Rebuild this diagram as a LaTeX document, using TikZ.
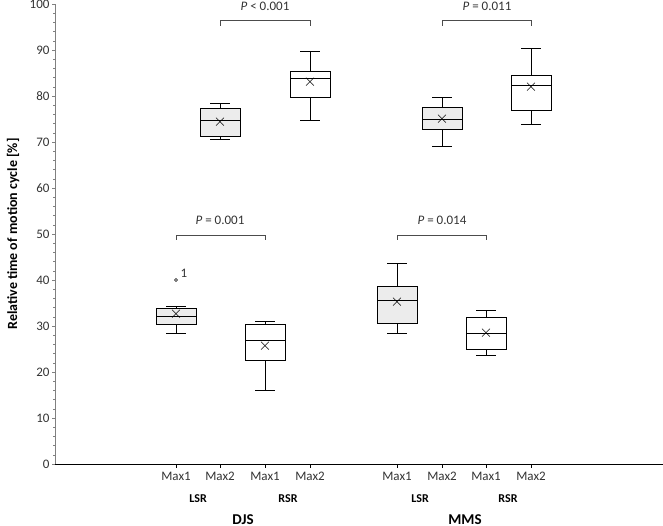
\documentclass[tikz,border=0pt]{standalone}
\usepackage{fontspec}
\setmainfont{Carlito}
\usepackage{tikz}

% one box: x, whisker low, q1, median, q3, whisker high, mean, fill
\newcommand{\bplot}[8]{
  \draw[thick] (#1,#2) -- (#1,#3) (#1,#5) -- (#1,#6);
  \draw[thick] (#1-10,#2) -- (#1+10,#2) (#1-10,#6) -- (#1+10,#6);
  \draw[thick, fill=#8] (#1-20,#3) rectangle (#1+20,#5);
  \draw[thick] (#1-20,#4) -- (#1+20,#4);
  \node[font=\fontsize{16}{16}\selectfont] at (#1,#7) {$\times$};
}

\begin{document}
\begin{tikzpicture}[x=1pt, y=4.6pt,
	bracket/.style={draw=black!70, thick},
	ticklab/.style={font=\fontsize{13}{15}\selectfont, text=black!80},
	grouplab/.style={font=\fontsize{12}{14}\selectfont\bfseries}]
  \useasboundingbox (-55,-13.26) rectangle (608,100.87);
  % axes
  \draw[black!50] (0,0) -- (0,100);
  \foreach \v in {0,10,...,100}
    \draw[black!50] (-3,\v) -- (0,\v) node[ticklab, anchor=east, xshift=-2pt] {\v};
  \foreach \v in {2,4,...,98}
    \draw[black!50, densely dotted] (-2,\v) -- (0,\v);
  \draw[thick] (0,0) -- (608,0);
  \node[font=\fontsize{14}{16}\selectfont\bfseries, rotate=90] (ylab) at (-42,50) {Relative time of motion cycle [\%]};
  % x ticks
  \foreach \x/\t in {121/Max1,165/Max2,210/Max1,255/Max2,342/Max1,387/Max2,431/Max1,476/Max2}
    \draw[thick] (\x,0) -- (\x,-0.8) node[ticklab, below, yshift=-1pt] {\t};
  \node[grouplab] (lsrA) at (143,-7.6) {LSR};
  \node[grouplab] (rsrA) at (233,-7.6) {RSR};
  \node[grouplab] (lsrB) at (365,-7.6) {LSR};
  \node[grouplab] (rsrB) at (453,-7.6) {RSR};
  \node[font=\fontsize{15}{17}\selectfont\bfseries] (djs) at (188,-12.2) {DJS};
  \node[font=\fontsize{15}{17}\selectfont\bfseries] (mms) at (410,-12.2) {MMS};
  % boxes
  \bplot{121}{28.4}{30.4}{32.0}{33.8}{34.3}{32.6}{gray!15}
  \bplot{165}{70.5}{71.2}{74.8}{77.2}{78.3}{74.4}{gray!15}
  \bplot{210}{15.9}{22.6}{26.8}{30.4}{30.9}{25.7}{white}
  \bplot{255}{74.6}{79.7}{83.8}{85.3}{89.6}{82.9}{white}
  \bplot{342}{28.3}{30.6}{35.5}{38.7}{43.6}{35.1}{gray!15}
  \bplot{387}{69.0}{72.8}{74.9}{77.5}{79.6}{74.9}{gray!15}
  \bplot{431}{23.7}{24.9}{28.5}{31.8}{33.3}{28.5}{white}
  \bplot{476}{73.9}{76.8}{82.4}{84.4}{90.4}{81.9}{white}
  % outlier
  \draw[fill=white] (121,40) circle (1.5pt);
  \node[ticklab] (out1) at (129,41.4) {1};
  % brackets
  \draw[bracket] (121,48.7) -- (121,49.8) -- (210,49.8) -- (210,48.7);
  \node[ticklab] (p1) at (165,53) {\textit{P} = 0.001};
  \draw[bracket] (342,48.7) -- (342,49.8) -- (431,49.8) -- (431,48.7);
  \node[ticklab] (p2) at (387,53) {\textit{P} = 0.014};
  \draw[bracket] (165,95.3) -- (165,96.4) -- (255,96.4) -- (255,95.3);
  \node[ticklab] (p3) at (210,99.4) {\textit{P} < 0.001};
  \draw[bracket] (387,95.3) -- (387,96.4) -- (476,96.4) -- (476,95.3);
  \node[ticklab] (p4) at (432,99.4) {\textit{P} = 0.011};
\end{tikzpicture}
\end{document}
